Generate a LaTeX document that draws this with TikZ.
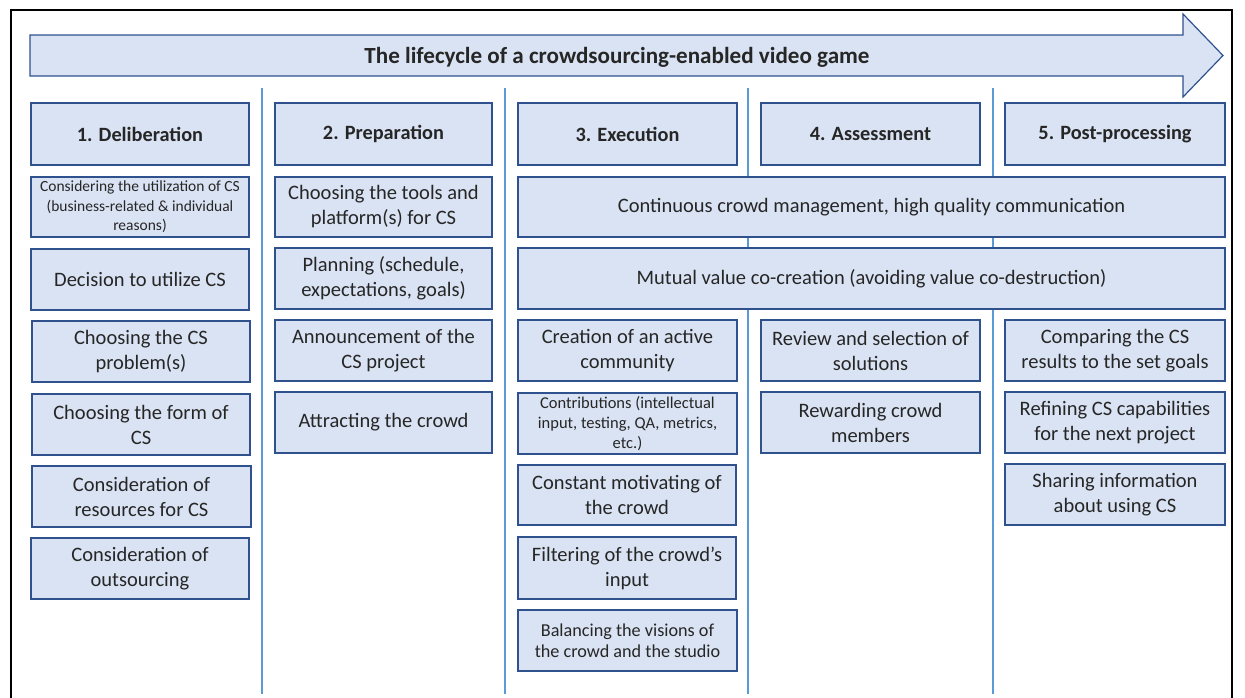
\documentclass[tikz,border=0pt]{standalone}
\usepackage{fontspec}
\setmainfont{Carlito}
\definecolor{boxfill}{HTML}{DAE3F3}
\definecolor{boxline}{HTML}{2F528F}
\definecolor{sepline}{HTML}{5B9BD5}
\definecolor{ink}{HTML}{262626}
\tikzset{
  cell/.style={draw=boxline, fill=boxfill, line width=1.3pt, align=center, inner sep=0pt,
    font=\fontsize{20.5}{25}\selectfont, text=ink},
  small/.style={font=\fontsize{15.5}{19.5}\selectfont},
  smallish/.style={font=\fontsize{16.5}{20.3}\selectfont},
  mid/.style={font=\fontsize{18.2}{21}\selectfont},
  head/.style={font=\bfseries\fontsize{20.3}{24}\selectfont},
  separator/.style={draw=sepline, line width=1.6pt},
}
% box from (x1,y1) to (x2,y2) in pixel units, y downward
\newcommand{\cbox}[7][]{%
  \node[cell, minimum width={#4-#2}, minimum height={#5-#3}, #1] (#6) at ({(#2+#4)/2},{(#3+#5)/2}) {#7};}
\begin{document}
\begin{tikzpicture}[x=1pt, y=-1pt]
\useasboundingbox (0,0) rectangle (1245,697);
% outer frame, open at the bottom
\draw[line width=2.4pt, black] (11,700) -- (11,10) -- (1232,10) -- (1232,700);
% lifecycle arrow
\draw[boxline, fill=boxfill, line width=1.2pt]
  (30,35) -- (1183,35) -- (1183,14) -- (1223,55.5) -- (1183,97) -- (1183,76) -- (30,76) -- cycle;
\node[font=\bfseries\fontsize{23.1}{27}\selectfont, text=ink] (title) at (617,57.5) {The lifecycle of a crowdsourcing-enabled video game};
% column separators
\foreach \x/\n in {262/s1, 505/s2, 748/s3, 993/s4} {
  \coordinate (\n top) at (\x,88);
  \coordinate (\n bot) at (\x,694);
  \draw[separator] (\n top) -- (\n bot);
}
% headers
\cbox[head]{31}{103}{249}{165}{h1}{1. Deliberation}
\cbox[head]{275}{103}{492}{165}{h2}{2. Preparation}
\cbox[head]{518}{103}{737}{165}{h3}{3. Execution}
\cbox[head]{761}{103}{980}{165}{h4}{4. Assessment}
\cbox[head]{1005}{103}{1225}{165}{h5}{5. Post-processing}
% column 1
\cbox[small]{31}{177}{249}{237}{a1}{Considering the utilization of CS\\(business-related \& individual\\reasons)}
\cbox{31}{249}{249}{310}{a2}{Decision to utilize CS}
\cbox{32}{321}{250}{382}{a3}{Choosing the CS\\problem(s)}
\cbox{32}{394}{250}{455}{a4}{Choosing the form of\\CS}
\cbox{32}{466}{251}{527}{a5}{Consideration of\\resources for CS}
\cbox{31}{538}{249}{599}{a6}{Consideration of\\outsourcing}
% column 2
\cbox{275}{177}{492}{237}{b1}{Choosing the tools and\\platform(s) for CS}
\cbox{275}{248}{492}{309}{b2}{Planning (schedule,\\expectations, goals)}
\cbox{275}{320}{492}{381}{b3}{Announcement of the\\CS project}
\cbox{275}{392}{492}{453}{b4}{Attracting the crowd}
% rows spanning columns 3 to 5
\cbox{518}{177}{1225}{237}{w1}{Continuous crowd management, high quality communication}
\cbox{518}{248}{1225}{309}{w2}{Mutual value co-creation (avoiding value co-destruction)}
% column 3
\cbox{518}{320}{737}{381}{c1}{Creation of an active\\community}
\cbox[smallish]{518}{393}{737}{454}{c2}{Contributions (intellectual\\input, testing, QA, metrics,\\etc.)}
\cbox{518}{465}{736}{525}{c3}{Constant motivating of\\the crowd}
\cbox{518}{537}{736}{599}{c4}{Filtering of the crowd’s\\input}
\cbox[mid]{518}{610}{737}{671}{c5}{Balancing the visions of\\the crowd and the studio}
% column 4
\cbox{761}{320}{980}{381}{d1}{Review and selection of\\solutions}
\cbox{761}{392}{980}{453}{d2}{Rewarding crowd\\members}
% column 5
\cbox{1005}{320}{1225}{381}{e1}{Comparing the CS\\results to the set goals}
\cbox{1005}{392}{1225}{453}{e2}{Refining CS capabilities\\for the next project}
\cbox{1005}{464}{1225}{525}{e3}{Sharing information\\about using CS}
\end{tikzpicture}
\end{document}
